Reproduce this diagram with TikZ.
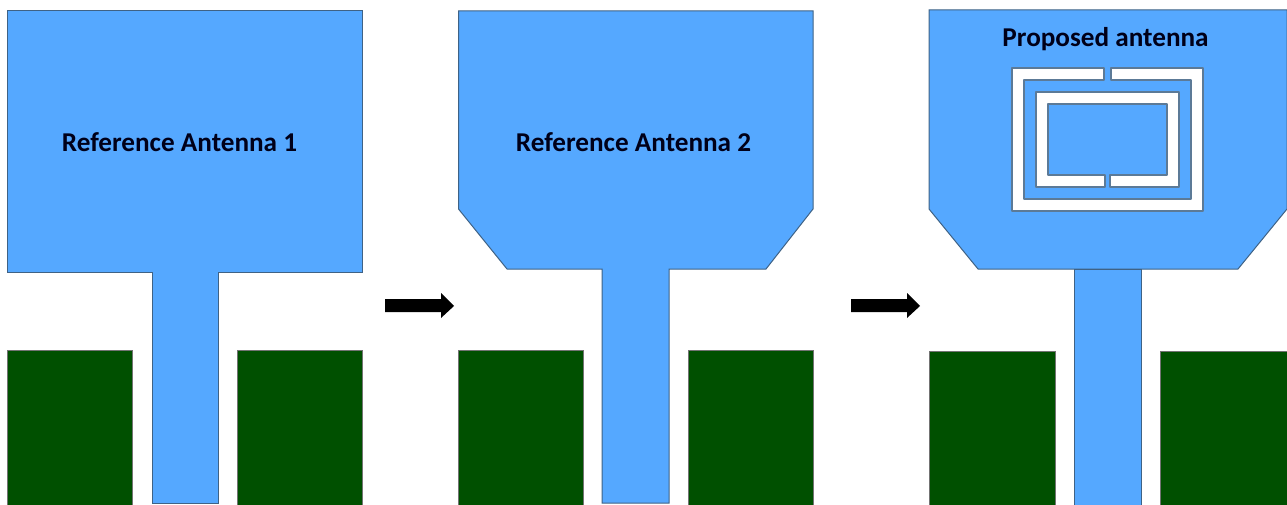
\documentclass[tikz,border=0pt]{standalone}
\usepackage{fontspec}
\setmainfont{Carlito}
\definecolor{patchblue}{HTML}{55A8FF}
\definecolor{gndgreen}{HTML}{005000}
\definecolor{edgegray}{HTML}{3F6285}
\tikzset{
  patch/.style={fill=patchblue,draw=edgegray,line width=1pt,line join=miter},
  ground/.style={fill=gndgreen,draw=black!55,line width=0.7pt},
  slot/.style={fill=white,draw=edgegray!85,line width=1.3pt,line join=round,even odd rule},
  flow/.style={fill=black,draw=none},
  lbl/.style={font=\bfseries\fontsize{27.2}{30}\selectfont,text=black!90!blue,inner sep=0pt}
}
\begin{document}
\begin{tikzpicture}[x=1pt,y=-1pt]
\useasboundingbox (0,0) rectangle (1287,505);
% Reference antenna 1
\draw[ground] (7.5,350) rectangle (132,506);
\draw[ground] (237,350) rectangle (362,506);
\draw[patch] (7.5,11) -- (362,11) -- (362,272) -- (218,272) -- (218,503) -- (152,503) -- (152,272) -- (7.5,272) -- cycle;
\node[lbl] (ref1) at (179.5,142) {Reference Antenna 1};
% Arrow 1
\fill[flow] (385,299) -- (441,299) -- (441,293) -- (454,306) -- (441,318) -- (441,312) -- (385,312) -- cycle;
% Reference antenna 2
\draw[ground] (458.5,350) rectangle (583,506);
\draw[ground] (688,350) rectangle (813,506);
\draw[patch] (458.5,11) -- (813,11) -- (813,209) -- (766,269) -- (669,269) -- (669,503) -- (602,503) -- (602,269) -- (507,269) -- (458.5,209) -- cycle;
\node[lbl] (ref2) at (633.5,142) {Reference Antenna 2};
% Arrow 2
\fill[flow] (851,299) -- (907,299) -- (907,293) -- (920,306) -- (907,318) -- (907,312) -- (851,312) -- cycle;
% Proposed antenna
\draw[ground] (929,351) rectangle (1055,506);
\draw[ground] (1160,351) rectangle (1288,506);
\draw[patch] (929,10) -- (1287,10) -- (1287,209) -- (1238,269) -- (978,269) -- (929,209) -- cycle;
\draw[patch] (1074,269) rectangle (1141,506);
\draw[slot] (1104,68) -- (1012,68) -- (1012,211) -- (1203,211) -- (1203,68) -- (1111,68) -- (1111,80) -- (1191,80) -- (1191,199) -- (1024,199) -- (1024,80) -- (1104,80) -- cycle;
\draw[slot] (1105,187) -- (1036,187) -- (1036,92) -- (1179,92) -- (1179,187) -- (1110,187) -- (1110,175) -- (1167,175) -- (1167,104) -- (1048,104) -- (1048,175) -- (1105,175) -- cycle;
\node[lbl] (prop) at (1105.5,39.5) {Proposed antenna};
\end{tikzpicture}
\end{document}
